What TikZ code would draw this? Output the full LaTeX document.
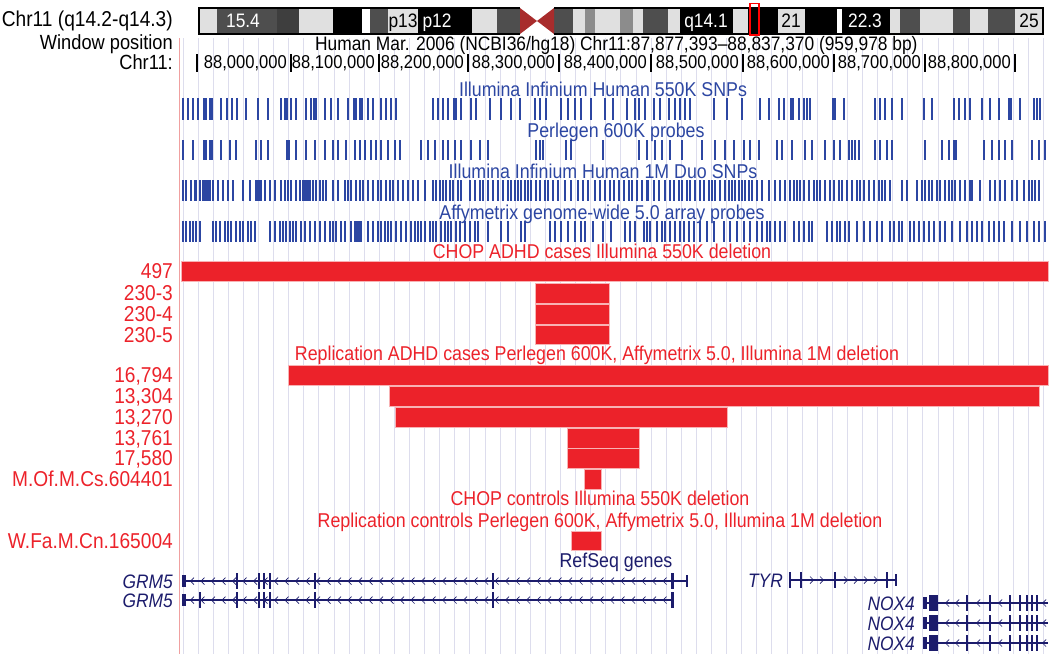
\documentclass[tikz,border=0pt]{standalone}
\usepackage{fontspec}
\setmainfont{Liberation Sans}[FakeStretch=0.89]
\usepackage{tikz}
\definecolor{snpblue}{RGB}{44,70,162}
\definecolor{cnvred}{RGB}{236,34,42}
\definecolor{genenavy}{RGB}{28,28,108}
\definecolor{guidegray}{RGB}{221,221,237}
\definecolor{leftpink}{RGB}{240,160,160}
\definecolor{bandlight}{RGB}{224,224,224}
\definecolor{bandmid}{RGB}{140,140,140}
\definecolor{banddark}{RGB}{78,78,78}
\definecolor{cenred}{RGB}{168,44,44}

\begin{document}
\begin{tikzpicture}[x=1pt, y=-1pt]
\tikzstyle{guide}=[draw=guidegray, line width=1pt]
\tikzstyle{snp}=[fill=snpblue]
\tikzstyle{cnv}=[fill=cnvred, draw=cnvred!35!white, line width=0.7pt]
\tikzstyle{gene}=[draw=genenavy, line width=1.3pt]
\tikzstyle{exon}=[draw=genenavy, line width=1.8pt]
\tikzstyle{chev}=[draw=genenavy, line width=0.7pt]
\tikzstyle{sidetext}=[anchor=base east, inner sep=0pt, font=\fontsize{21.5}{24}\selectfont]
\tikzstyle{casetext}=[sidetext, text=cnvred]
\tikzstyle{genetext}=[anchor=base east, inner sep=0pt, text=genenavy, font=\fontsize{19.5}{22}\selectfont\itshape]
\tikzstyle{trktext}=[anchor=base, inner sep=0pt, text=snpblue, font=\fontsize{20}{23}\selectfont]
\tikzstyle{deltext}=[trktext, text=cnvred]
\tikzstyle{bandtext}=[anchor=base, inner sep=0pt, font=\fontsize{19.5}{22}\selectfont]
\tikzstyle{rulertext}=[anchor=base east, inner sep=0pt, font=\fontsize{18.6}{21}\selectfont]

\useasboundingbox (0,0) rectangle (1050,654);

% guide lines
\foreach \x in {183,198.1,...,1046} \draw[guide] (\x,38) -- (\x,654);
\draw[leftpink, line width=1pt] (179,38) -- (179,654);

% ideogram
\foreach \a/\b/\c in {199/217/bandlight, 217/277/banddark, 277/299/banddark!80!black, 299/333/bandlight,
  333/362/black, 362/370/white, 370/388/banddark, 388/418/bandlight, 418/472/black, 472/497/bandlight,
  497/520/banddark, 554/573/banddark, 573/585/bandlight, 585/595/bandmid, 595/620/bandlight,
  620/633/bandmid, 633/643/bandlight, 643/668/banddark, 668/680/bandlight, 680/733/black,
  733/748/bandlight, 748/778/black, 778/805/bandlight, 805/837/black, 837/842/white, 842/890/black,
  890/900/bandlight, 900/920/banddark, 920/953/bandlight, 953/970/banddark, 970/988/bandlight,
  988/1015/banddark, 1015/1043/bandlight}
  \fill[\c] (\a,8) rectangle (\b,34);
\fill[cenred] (520,8) -- (537,21) -- (520,34) -- cycle;
\fill[cenred] (554,8) -- (537,21) -- (554,34) -- cycle;
\draw[line width=1.2pt] (520,8) -- (199,8) -- (199,34) -- (520,34);
\draw[line width=1.2pt] (554,8) -- (1043,8) -- (1043,34) -- (554,34);
\node[bandtext, text=white] (b154) at (243,27.5) {15.4};
\node[bandtext] (bp13) at (403,27.5) {p13};
\node[bandtext, text=white] (bp12) at (437,27.5) {p12};
\node[bandtext, text=white] (bq141) at (706,27.5) {q14.1};
\node[bandtext] (bq21) at (791,27.5) {21};
\node[bandtext, text=white] (bq223) at (865,27.5) {22.3};
\node[bandtext] (bq25) at (1029,27.5) {25};
\draw[red, line width=1.6pt] (750,3.5) rectangle (759,35);

\node[sidetext] (chrlbl) at (173,26) {Chr11 (q14.2-q14.3)};
\node[sidetext, font=\fontsize{20.5}{23}\selectfont] (winlbl) at (173,49.5) {Window position};
\node[sidetext, font=\fontsize{20.5}{23}\selectfont] (poslbl) at (173,69) {Chr11:};
\node[anchor=base west, inner sep=0pt, font=\fontsize{19.5}{22}\selectfont] (hdr) at (315,50) {Human Mar. 2006 (NCBI36/hg18) Chr11:87,877,393–88,837,370 (959,978 bp)};

% ruler
\draw[line width=1.3pt] (197,54) -- (197,72);
\foreach \x/\m in {291/0, 379/1, 468/2, 559/3, 651/4, 743/5, 834/6, 925/7, 1015/8} {
  \draw[line width=1.3pt] (\x,54) -- (\x,72);
  \node[rulertext] (tick\m) at (\x-4,68) {88,\m00,000};
}

% array tracks
\node[trktext] (trk0) at (603,96) {Illumina Infinium Human 550K SNPs};
\node[trktext] (trk1) at (616,137) {Perlegen 600K probes};
\node[trktext] (trk2) at (603,178) {Illumina Infinium Human 1M Duo SNPs};
\node[trktext] (trk3) at (602,219) {Affymetrix genome-wide 5.0 array probes};

\foreach \x in {183,188,193,198,204,206,210,212,221,227,232,237,246,258,268,281,285,287,291,296,306,311,314,316,
  325,331,338,348,354,356,360,362,368,373,381,386,391,396,433,438,443,448,454,456,461,471,476,490,501,511,520,
  535,540,546,561,568,575,581,591,605,613,627,635,639,645,654,660,669,675,680,685,690,714,727,742,760,769,779,
  784,791,793,799,804,807,810,833,835,844,875,880,885,892,902,924,932,954,959,965,970,982,990,999,1009,1011,
  1020,1034,1037,1040}
  \fill[snp] (\x-1,98) rectangle (\x+1,120);
\foreach \x in {183,193,204,206,210,212,221,230,236,256,261,268,287,289,296,306,315,325,333,338,346,355,360,365,
  371,376,381,388,395,400,421,428,435,443,448,455,461,471,480,488,536,540,543,566,571,603,639,647,655,662,670,
  682,702,715,725,734,744,750,759,777,782,792,805,812,825,834,840,849,852,855,859,875,880,887,892,925,942,949,
  954,956,984,992,999,1005,1012,1032,1039,1045}
  \fill[snp] (\x-1,140) rectangle (\x+1,160);
\foreach \x in {183,186,191,195,196,200,203,205,206,208,210,213,218,223,228,233,243,250,256,258,260,261,265,270,
  275,281,285,288,291,296,300,303,305,306,308,310,313,316,320,323,326,333,338,345,348,351,356,360,363,368,373,
  378,381,386,390,393,398,403,408,413,418,425,433,436,440,443,446,450,453,458,461,470,475,480,483,488,493,498,
  503,508,511,515,518,521,525,528,531,536,540,545,548,553,558,565,571,578,583,588,595,600,605,610,614,619,624,
  629,632,637,642,647,648,654,659,665,670,674,679,682,687,690,695,700,704,709,712,715,720,725,729,732,735,739,
  742,745,749,752,757,762,769,775,780,785,790,794,797,800,804,809,814,817,820,825,830,834,839,842,847,852,857,
  860,864,869,874,879,882,885,890,902,907,917,922,925,929,932,937,940,945,949,952,955,960,965,970,972,980,990,
  995,1000,1005,1012,1017,1024,1029,1032,1035,1039}
  \fill[snp] (\x-1,180) rectangle (\x+1,201);
\foreach \x in {183,186,190,193,196,200,213,216,220,225,228,231,236,240,243,248,251,255,270,275,280,283,286,290,
  293,296,301,305,310,315,320,325,330,333,336,341,345,351,355,356,358,360,361,368,373,378,381,385,388,391,396,
  401,406,411,415,418,421,425,430,433,436,441,445,448,451,456,460,465,470,475,478,488,501,508,521,525,550,555,
  561,568,575,581,585,593,603,611,625,630,635,644,647,650,657,662,665,670,675,680,684,689,694,700,707,714,724,
  730,737,744,750,757,762,767,770,775,780,785,794,799,804,809,812,827,832,837,840,845,849,857,864,870,877,882,
  890,894,899,902,910,914,919,924,929,934,940,945,952,960,967,972,977,982,989,994,999,1004,1012,1020,1027,1034,
  1039,1045}
  \fill[snp] (\x-1,221) rectangle (\x+1,242);

% deletions
\node[deltext] (cas) at (602,258) {CHOP ADHD cases Illumina 550K deletion};
\path[cnv] (181,261) rectangle (1048,281);
\path[cnv] (535,283) rectangle (609,303);
\path[cnv] (535,304) rectangle (609,324);
\path[cnv] (535,325) rectangle (609,344);
\node[casetext] (c497) at (173,278.5) {497};
\node[casetext] (c2303) at (173,300.5) {230-3};
\node[casetext] (c2304) at (173,321.5) {230-4};
\node[casetext] (c2305) at (173,342) {230-5};

\node[deltext] (rep) at (597,360) {Replication ADHD cases Perlegen 600K, Affymetrix 5.0, Illumina 1M deletion};
\path[cnv] (288,365) rectangle (1048,385);
\path[cnv] (389,386) rectangle (1039,406);
\path[cnv] (395,407) rectangle (727,427);
\path[cnv] (567,428) rectangle (639,448);
\path[cnv] (567,448) rectangle (639,468);
\path[cnv] (584,469) rectangle (601,489);
\node[casetext] (r16794) at (173,382.5) {16,794};
\node[casetext] (r13304) at (173,403.5) {13,304};
\node[casetext] (r13270) at (173,424.5) {13,270};
\node[casetext] (r13761) at (173,445.5) {13,761};
\node[casetext] (r17580) at (173,465.5) {17,580};
\node[casetext] (r604401) at (173,486.5) {M.Of.M.Cs.604401};

\node[deltext] (ctl) at (600,505) {CHOP controls Illumina 550K deletion};
\node[deltext] (repctl) at (600,527) {Replication controls Perlegen 600K, Affymetrix 5.0, Illumina 1M deletion};
\path[cnv] (571,531) rectangle (601,550);
\node[casetext] (r165004) at (173,548) {W.Fa.M.Cn.165004};

% genes
\node[trktext, text=genenavy] (refseq) at (616,567) {RefSeq genes};
\draw[gene] (182,581) -- (687,581);
\draw[gene] (182,600) -- (672,600);
\foreach \y in {581,600} {
  \fill[genenavy] (182,\y-6) rectangle (186,\y+6);
  \fill[genenavy] (670.5,\y-8) rectangle (673.5,\y+8);
  \foreach \x in {237,259,264,270,315,493} \draw[exon] (\x,\y-8) -- (\x,\y+8);
  \foreach \x in {192,202.5,...,666} \draw[chev] (\x+2,\y-3.5) -- (\x-1.5,\y) -- (\x+2,\y+3.5);
}
\draw[exon] (687,575) -- (687,587);
\draw[exon] (200,592) -- (200,608);
\node[genetext] (grm5a) at (173,588) {GRM5};
\node[genetext] (grm5b) at (173,607) {GRM5};

\draw[gene] (790,580) -- (896,580);
\foreach \x in {790,801,835,887} \draw[exon] (\x,572) -- (\x,588);
\draw[exon] (896,574) -- (896,586);
\foreach \x in {812,822,846,856,866,876} \draw[chev] (\x-2,576.5) -- (\x+1.5,580) -- (\x-2,583.5);
\node[genetext] (tyr) at (783,587) {TYR};

\foreach \y/\n in {603/1,623/2,643/3} {
  \draw[gene] (923,\y) -- (1048,\y);
  \fill[genenavy] (923,\y-6) rectangle (927,\y+6);
  \fill[genenavy] (928.5,\y-8) rectangle (937.5,\y+8);
  \foreach \x in {967,990,1010,1020,1027,1032,1037} \draw[exon] (\x,\y-8) -- (\x,\y+8);
  \foreach \x in {947,957,978,1000,1044} \draw[chev] (\x+2,\y-3.5) -- (\x-1.5,\y) -- (\x+2,\y+3.5);
  \node[genetext] (nox\n) at (915,\y+7) {NOX4};
}
\end{tikzpicture}
\end{document}
